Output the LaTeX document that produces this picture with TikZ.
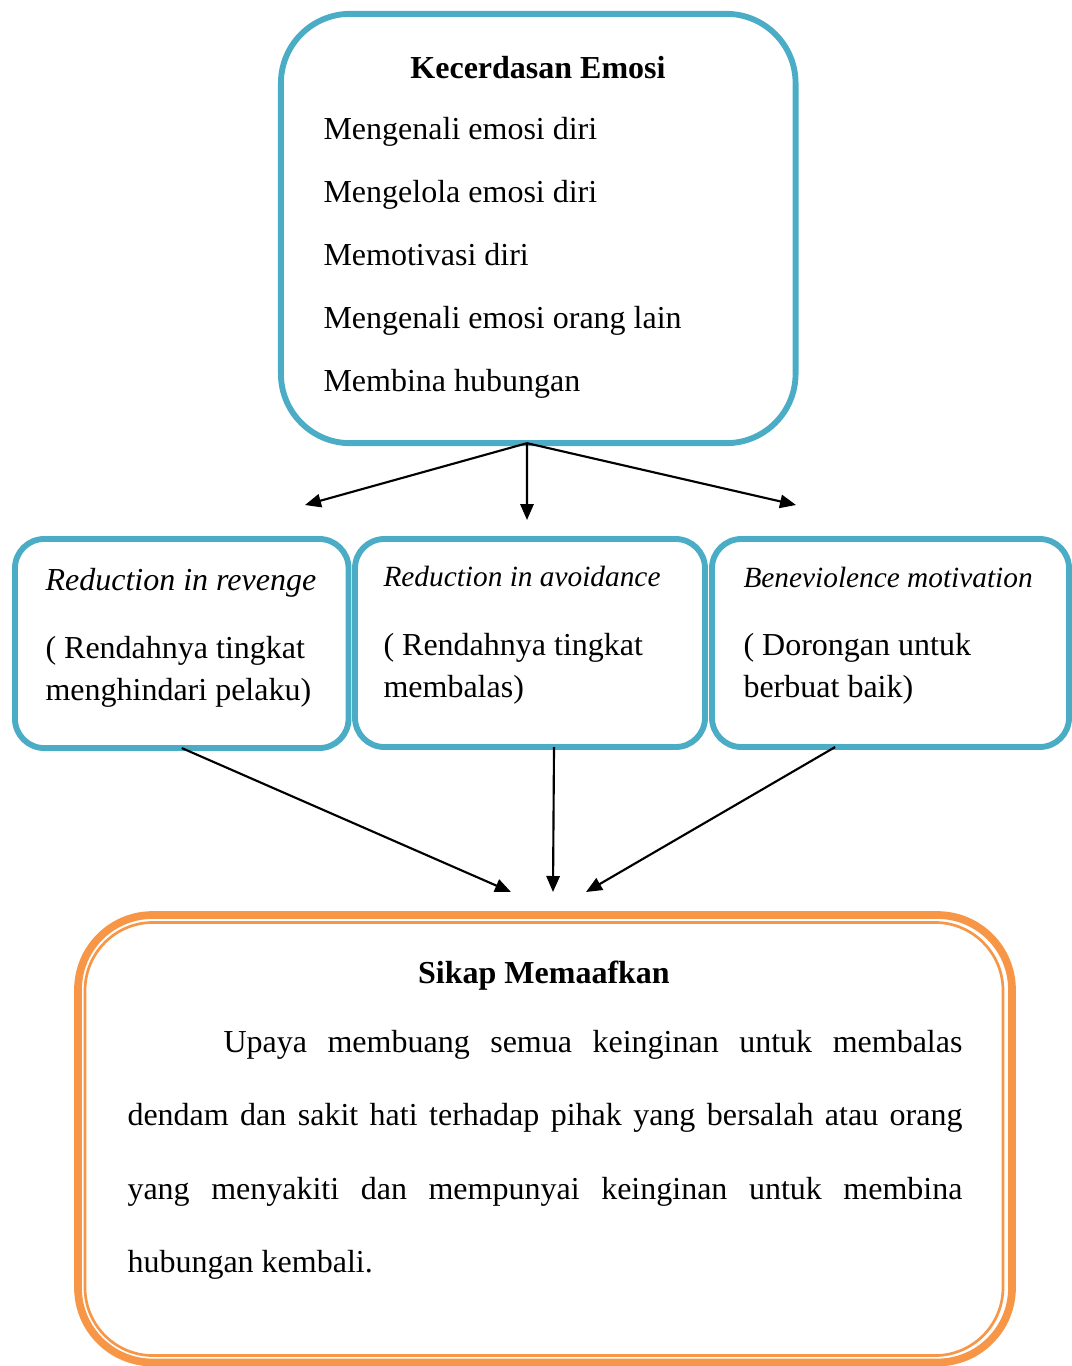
\documentclass[tikz,border=0pt]{standalone}
\usepackage{fontspec}
\setmainfont{Liberation Serif}
\usepackage{xcolor}
\usepackage{tikz}
\usetikzlibrary{positioning,arrows.meta}

\definecolor{biru}{HTML}{4BACC6}
\definecolor{oranye}{HTML}{F79646}

\begin{document}
\begin{tikzpicture}[x=0.375pt, y=-0.375pt, font=\fontsize{12}{14}\selectfont,
        kotak/.style={draw=biru, line width=2.2pt, rounded corners=11pt, inner sep=0pt, outer sep=0pt, minimum height=78pt},
        panah/.style={-{Triangle[length=6pt,width=5pt]}, line width=0.8pt},
        tebal/.style={anchor=base, inner sep=0pt, font=\fontsize{12}{14}\selectfont\bfseries},
        judul/.style={anchor=base west, inner sep=0pt, font=\fontsize{11}{13}\selectfont\itshape},
        teks/.style={anchor=base west, inner sep=0pt, text width=130pt, align=flush left, font=\fontsize{12}{15.75}\selectfont}]
        \useasboundingbox (0,0) rectangle (1072,1366); % Ukuran gambar

        % Kotak kecerdasan emosi
        \node[kotak, rounded corners=26pt, minimum width=193pt, minimum height=161pt] (emosi) at (538.25,228.5) {};
        \node[tebal] (judulEmosi) at (538,78) {Kecerdasan Emosi};
        \foreach \isi [count=\i] in {Mengenali emosi diri, Mengelola emosi diri, Memotivasi diri, Mengenali emosi orang lain, Membina hubungan}
            \node[anchor=base west, inner sep=0pt] (item\i) at (323,76.5+63*\i) {\isi}; % Aspek ke-\i

        % Tiga kotak di tengah
        \node[kotak, minimum width=125.1pt, minimum height=78.4pt] (revenge) at (181.75,643.5) {};
        \node[kotak, minimum width=131.25pt] (avoid) at (530,643) {};
        \node[kotak, minimum width=133.9pt] (bene) at (890.5,643) {};

        \node[judul, font=\fontsize{12}{14}\selectfont\itshape] (jRevenge) at (45,590) {Reduction in revenge};
        \node[teks] (tRevenge) at (45,658) {( Rendahnya tingkat\\menghindari pelaku)};
        \node[judul] (jAvoid) at (383,586) {Reduction in avoidance};
        \node[teks] (tAvoid) at (383,655) {( Rendahnya tingkat\\membalas)};
        \node[judul] (jBene) at (743,587) {Beneviolence motivation};
        \node[teks] (tBene) at (743,655) {( Dorongan untuk\\berbuat baik)};

        % Kotak sikap memaafkan (garis ganda)
        \node[draw=oranye, line width=2.9pt, rounded corners=28pt, minimum width=350.25pt, minimum height=167.8pt, inner sep=0pt] (maaf) at (545,1138.75) {};
        \node[draw=oranye, line width=1pt, rounded corners=25.5pt, minimum width=344.25pt, minimum height=162.4pt, inner sep=0pt] (maafIn) at (544,1139) {};
        \node[tebal] (judulMaaf) at (544,983) {Sikap Memaafkan};
        \node[anchor=base west, inner sep=0pt, text width=313.1pt, align=justify, font=\fontsize{12}{27.6}\selectfont] (isiMaaf) at (127,1052)
            {\hspace*{36pt}Upaya membuang semua keinginan untuk membalas\linebreak dendam dan sakit hati terhadap pihak yang bersalah atau orang\linebreak yang menyakiti dan mempunyai keinginan untuk membina\linebreak hubungan kembali.};

        % Ujung panah
        \coordinate (ujungKiri) at (305,505);
        \coordinate (ujungTengah) at (527,520);
        \coordinate (ujungKanan) at (796,505);
        \coordinate (masuk1) at (511,892);
        \coordinate (masuk2) at (553,892);
        \coordinate (masuk3) at (586,892);

        % Panah dari kotak atas
        \draw[panah] (emosi.-93) -- (ujungKiri);
        \draw[panah] (emosi.-93) -- (ujungTengah);
        \draw[panah] (emosi.-93) -- (ujungKanan);

        % Panah ke kotak bawah
        \draw[panah] (revenge.south) -- (masuk1);
        \draw[panah] (avoid.-77.5) -- (masuk2);
        \draw[panah] (bene.-118.1) -- (masuk3);
    \end{tikzpicture}
\end{document}
